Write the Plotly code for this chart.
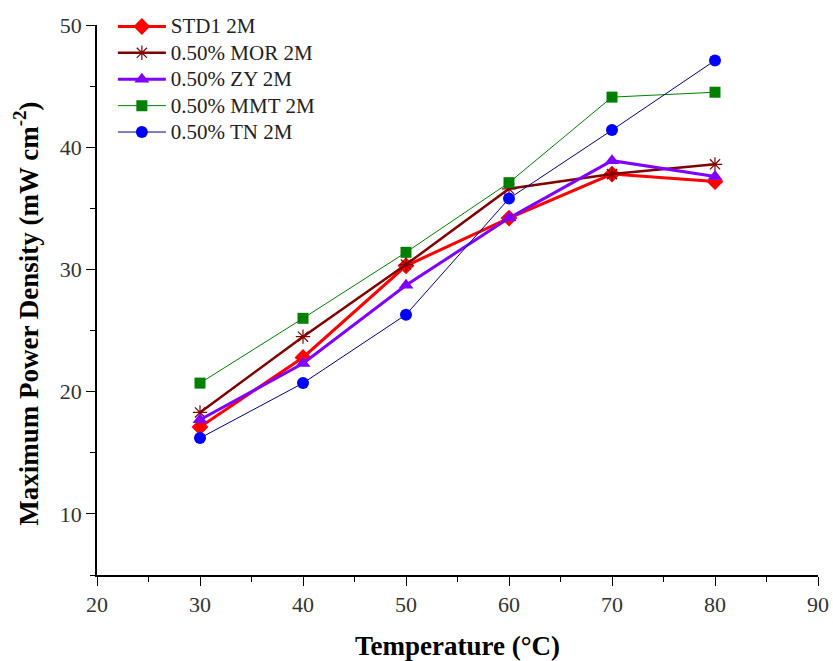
import plotly.graph_objects as go

# Operating temperature (°C)
temperature = [30, 40, 50, 60, 70, 80]

# Maximum power density (mW cm^-2) for each membrane
std1_2m = [17.1, 22.8, 30.3, 34.2, 37.8, 37.2]
mor_2m = [18.3, 24.5, 30.4, 36.6, 37.8, 38.6]
zy_2m = [17.7, 22.3, 28.7, 34.2, 38.9, 37.6]
mmt_2m = [20.7, 26.0, 31.4, 37.1, 44.1, 44.5]
tn_2m = [16.2, 20.7, 26.3, 35.8, 41.4, 47.1]

x_ticks = [20, 30, 40, 50, 60, 70, 80, 90]
y_ticks = [10, 20, 30, 40, 50]

series = [
    dict(name="STD1 2M", y=std1_2m, line=dict(color="#FF0000", width=3),
         marker=dict(symbol="diamond", size=13, color="#FF0000")),
    dict(name="0.50% MOR 2M", y=mor_2m, line=dict(color="#800000", width=2.5),
         marker=dict(symbol="asterisk-open", size=12, color="#800000",
                     line=dict(color="#800000", width=1.2))),
    dict(name="0.50% ZY 2M", y=zy_2m, line=dict(color="#8000FF", width=3),
         marker=dict(symbol="triangle-up", size=13, color="#8000FF")),
    dict(name="0.50% MMT 2M", y=mmt_2m, line=dict(color="#008000", width=1),
         marker=dict(symbol="square", size=11, color="#008000")),
    dict(name="0.50% TN 2M", y=tn_2m, line=dict(color="#000080", width=1),
         marker=dict(symbol="circle", size=12, color="#0000FF")),
]

fig = go.Figure()
for s in series:
    fig.add_trace(go.Scatter(
        x=temperature, y=s["y"],
        # legend labels a touch larger than the row-pitch font
        name='<span style="font-size:21px">' + s["name"] + "</span>",
        mode="lines+markers", line=s["line"], marker=s["marker"]))

axis_font = dict(family="Liberation Serif", size=22, color="#333333")
title_font = dict(family="Liberation Serif", size=27, color="#000000")

fig.update_layout(
    width=833, height=661,
    margin=dict(l=97, r=15, t=25, b=86, autoexpand=False),
    paper_bgcolor="white", plot_bgcolor="white",
    font=dict(family="Liberation Serif"),
    showlegend=True,
    legend=dict(x=0.022, y=1.0305, xanchor="left", yanchor="top",
                bgcolor="rgba(0,0,0,0)", tracegroupgap=0, itemwidth=48,
                font=dict(family="Liberation Serif", size=18, color="#222222")),
    xaxis=dict(
        range=[20, 90], tickvals=x_ticks, ticks="outside", ticklen=9, tickwidth=1,
        tickcolor="black", showline=True, linecolor="black", linewidth=1.5,
        showgrid=False, zeroline=False, tickfont=axis_font,
        minor=dict(dtick=5, tick0=20, ticks="outside", ticklen=5, tickcolor="black", showgrid=False),
        title=dict(text="<b>Temperature (°C)</b>", font=title_font, standoff=22),
    ),
    yaxis=dict(
        range=[5, 50], tickvals=y_ticks, ticks="outside", ticklen=9, tickwidth=1,
        tickcolor="black", showline=True, linecolor="black", linewidth=1.5,
        showgrid=False, zeroline=False, tickfont=axis_font,
        minor=dict(dtick=5, tick0=5, ticks="outside", ticklen=5, tickcolor="black", showgrid=False),
    ),
    annotations=[dict(
        text="<b>Maximum Power Density (mW cm<sup>-2</sup>)</b>",
        font=title_font, textangle=-90, showarrow=False,
        xref="paper", yref="paper", x=-0.0985, y=0.475,
        xanchor="center", yanchor="middle",
    )],
)

fig.write_html("out.html")
